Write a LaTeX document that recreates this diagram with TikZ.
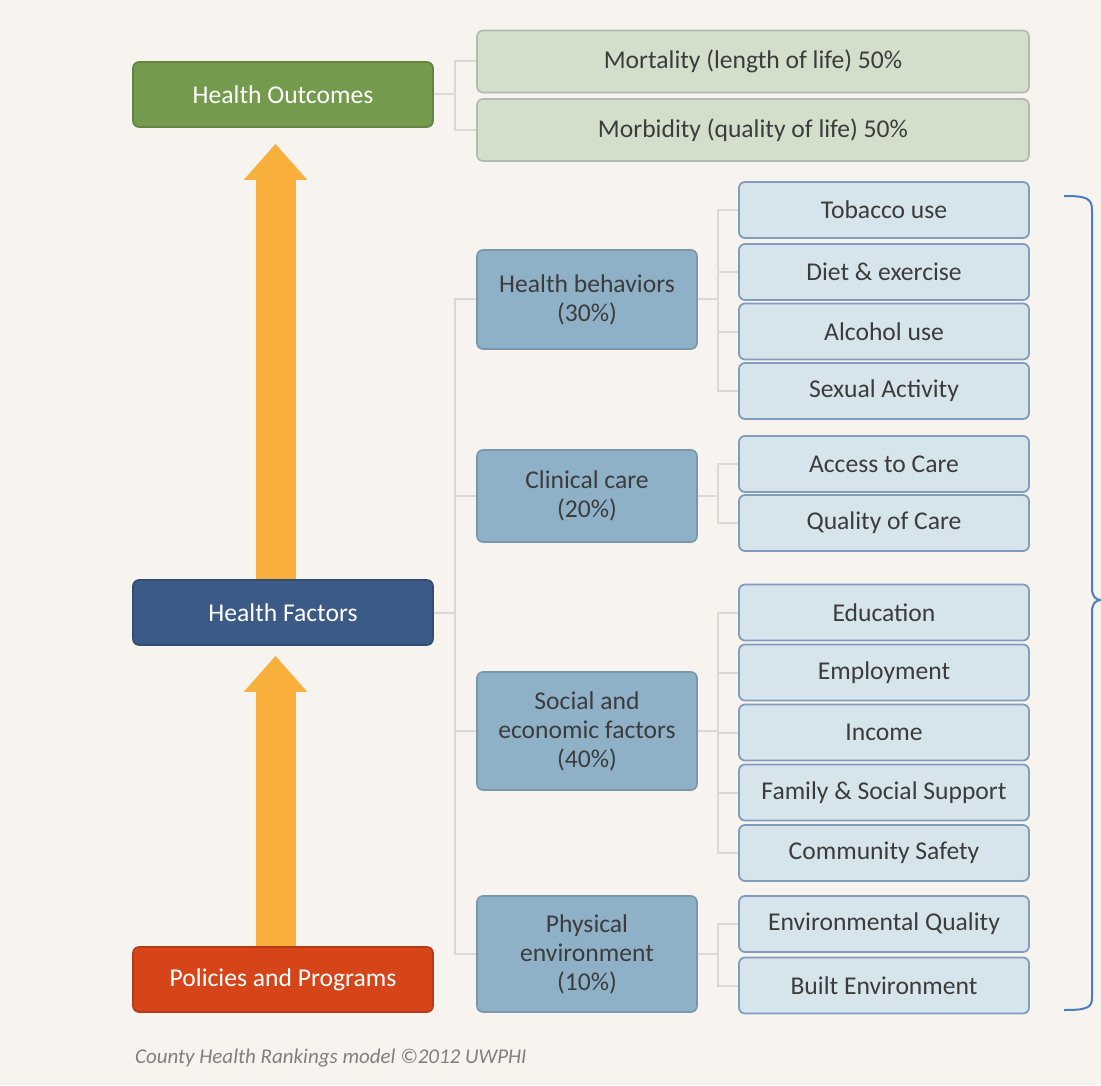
\documentclass[tikz,border=0pt]{standalone}
\usepackage{fontspec}
\setmainfont{Carlito}
\usetikzlibrary{arrows.meta}

\definecolor{bgbeige}{HTML}{F7F3EF}
\definecolor{outgreen}{HTML}{739A4D}
\definecolor{facblue}{HTML}{3B5A86}
\definecolor{polred}{HTML}{D64419}
\definecolor{palegreen}{HTML}{D3DFCB}
\definecolor{midblue}{HTML}{8FB1C8}
\definecolor{paleblue}{HTML}{D6E4EC}
\definecolor{itemedge}{HTML}{809DBF}
\definecolor{arroworange}{HTML}{F8AF3C}
\definecolor{bracecol}{HTML}{4A7EC2}
\definecolor{textgray}{HTML}{3C3C3C}

\tikzset{
  boxtext/.style={font=\fontsize{12.8}{14.5}\selectfont, text=textgray, align=center},
  mainbox/.style={boxtext, rounded corners=3pt, minimum width=150pt, minimum height=32.5pt, text=white, line width=0.8pt},
  resultbox/.style={boxtext, rounded corners=3pt, minimum width=276pt, minimum height=31pt, fill=palegreen, draw=palegreen!80!black!90, line width=0.8pt},
  groupbox/.style={boxtext, rounded corners=3pt, minimum width=110pt, fill=midblue, draw=midblue!85!black, line width=0.8pt},
  itembox/.style={boxtext, rounded corners=3pt, minimum width=145pt, minimum height=28pt, fill=paleblue, draw=itemedge, line width=0.9pt},
  link/.style={draw=black!15, line width=1pt},
  bigarrow/.style={draw=arroworange, line width=20pt, -{Triangle[width=30.5pt, length=18pt]}}
}

\begin{document}
\begin{tikzpicture}[x=0.5pt, y=-0.5pt]
	\fill[bgbeige] (0,0) rectangle (1101,1085);
	\useasboundingbox (0,0) rectangle (1101,1085);

	\node[mainbox, fill=outgreen, draw=outgreen!85!black] (outcomes) at (283,94.5) {Health Outcomes};
	\node[mainbox, fill=facblue, draw=facblue!85!black] (factors) at (283,612.5) {Health Factors};
	\node[mainbox, fill=polred, draw=polred!85!black] (policies) at (283,979.5) {Policies and Programs};

	\draw[bigarrow, shorten >=8pt] ([xshift=-3.75pt]factors.north) -- ([xshift=-3.75pt]outcomes.south);
	\draw[bigarrow, shorten >=5pt] ([xshift=-3.75pt]policies.north) -- ([xshift=-3.75pt]factors.south);

	\node[resultbox] (mortality) at (753,61.5) {Mortality (length of life) 50\%};
	\node[resultbox] (morbidity) at (753,130) {Morbidity (quality of life) 50\%};

	\node[groupbox, minimum height=49.5pt] (behaviors) at (587,299.5) {Health behaviors\\(30\%)};
	\node[groupbox, minimum height=46pt] (clinical) at (587,496) {Clinical care\\(20\%)};
	\node[groupbox, minimum height=59pt] (social) at (587,731) {Social and\\economic factors\\(40\%)};
	\node[groupbox, minimum height=58pt] (physical) at (587,954) {Physical\\environment\\(10\%)};

	\node[itembox] (tobacco) at (884,210) {Tobacco use};
	\node[itembox] (diet) at (884,272) {Diet \& exercise};
	\node[itembox] (alcohol) at (884,331.5) {Alcohol use};
	\node[itembox] (sexual) at (884,391) {Sexual Activity};
	\node[itembox] (access) at (884,464) {Access to Care};
	\node[itembox] (quality) at (884,523) {Quality of Care};
	\node[itembox] (education) at (884,612.5) {Education};
	\node[itembox] (employment) at (884,672.5) {Employment};
	\node[itembox] (income) at (884,732.5) {Income};
	\node[itembox] (family) at (884,792.5) {Family \& Social Support};
	\node[itembox] (safety) at (884,853) {Community Safety};
	\node[itembox] (envquality) at (884,924) {Environmental Quality};
	\node[itembox] (built) at (884,985.5) {Built Environment};

	\coordinate (leftbus) at (455,0);
	\coordinate (rightbus) at (718,0);

	\foreach \n in {mortality, morbidity}
		\draw[link] (outcomes.east) -- (outcomes.east -| leftbus) |- (\n.west);
	\foreach \n in {behaviors, clinical, social, physical}
		\draw[link] (factors.east) -- (factors.east -| leftbus) |- (\n.west);
	\foreach \n in {tobacco, diet, alcohol, sexual}
		\draw[link] (behaviors.east) -- (behaviors.east -| rightbus) |- (\n.west);
	\foreach \n in {access, quality}
		\draw[link] (clinical.east) -- (clinical.east -| rightbus) |- (\n.west);
	\foreach \n in {education, employment, income, family, safety}
		\draw[link] (social.east) -- (social.east -| rightbus) |- (\n.west);
	\foreach \n in {envquality, built}
		\draw[link] (physical.east) -- (physical.east -| rightbus) |- (\n.west);

	\draw[bracecol, line width=1pt] (1064,196) .. controls (1086,196) and (1092,198) .. (1092,210)
		-- (1092,588) .. controls (1092,597) and (1096,600) .. (1101,600)
		.. controls (1096,600) and (1092,603) .. (1092,612)
		-- (1092,998) .. controls (1092,1008) and (1086,1010) .. (1064,1010);

	\node[anchor=west, font=\fontsize{10.5}{12}\selectfont\itshape, text=black!50] (caption) at (128,1058) {County Health Rankings model \textcopyright 2012 UWPHI};
\end{tikzpicture}
\end{document}
